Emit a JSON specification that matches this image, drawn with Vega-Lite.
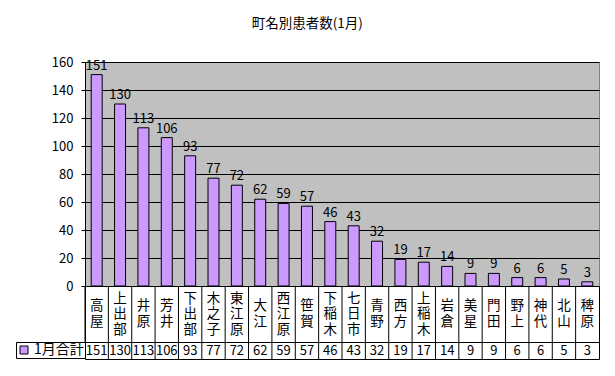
{
  "$schema": "https://vega.github.io/schema/vega-lite/v6.json",
  "background": "white",
  "padding": {"left": 15, "top": 17, "right": 5, "bottom": 5},
  "title": {"text": "町名別患者数(1月)", "font": "Noto Sans CJK JP", "fontSize": 13.5, "fontWeight": "normal", "color": "black", "anchor": "middle", "offset": 25},
  "data": {"values": [
    {"town": "高屋", "count": 151},
    {"town": "上出部", "count": 130},
    {"town": "井原", "count": 113},
    {"town": "芳井", "count": 106},
    {"town": "下出部", "count": 93},
    {"town": "木之子", "count": 77},
    {"town": "東江原", "count": 72},
    {"town": "大江", "count": 62},
    {"town": "西江原", "count": 59},
    {"town": "笹賀", "count": 57},
    {"town": "下稲木", "count": 46},
    {"town": "七日市", "count": 43},
    {"town": "青野", "count": 32},
    {"town": "西方", "count": 19},
    {"town": "上稲木", "count": 17},
    {"town": "岩倉", "count": 14},
    {"town": "美星", "count": 9},
    {"town": "門田", "count": 9},
    {"town": "野上", "count": 6},
    {"town": "神代", "count": 6},
    {"town": "北山", "count": 5},
    {"town": "稗原", "count": 3}
  ]},
  "bounds": "flush",
  "spacing": 0,
  "resolve": {"legend": {"color": "independent"}, "scale": {"color": "independent"}},
  "vconcat": [
    {
      "width": 514,
      "height": 224,
      "view": {"fill": "#C0C0C0", "stroke": "#808080", "strokeWidth": 1},
      "encoding": {
        "x": {"field": "town", "type": "nominal", "sort": null, "scale": {"paddingInner": 0, "paddingOuter": 0}, "axis": null},
        "y": {"field": "count", "type": "quantitative", "scale": {"domain": [0, 160], "nice": false},
          "axis": {"title": null, "values": [0, 20, 40, 60, 80, 100, 120, 140, 160], "labelOverlap": false, "grid": true, "gridColor": "black", "gridOpacity": 1, "gridWidth": 1,
            "domainColor": "black", "domainWidth": 1, "tickColor": "black", "tickSize": 4, "tickWidth": 1,
            "labelFont": "Noto Sans CJK JP", "labelFontSize": 13, "labelColor": "black", "labelPadding": 8}}
      },
      "layer": [
        {
          "mark": {"type": "bar", "fill": "#CC99FF", "stroke": "black", "strokeWidth": 1, "width": {"band": 0.47}}
        },
        {
          "mark": {"type": "text", "baseline": "bottom", "dy": -2, "font": "Noto Sans CJK JP", "fontSize": 13, "color": "black"},
          "encoding": {
            "text": {"field": "count", "type": "quantitative"}
          }
        }
      ]
    },
    {
      "width": 514,
      "height": 56,
      "view": {"fill": "white", "stroke": "black", "strokeWidth": 1},
      "transform": [
        {"calculate": "split(datum.town, '')", "as": "chars"},
        {"calculate": "length(datum.town)", "as": "n"}
      ],
      "encoding": {
        "x": {"field": "town", "type": "nominal", "sort": null, "bandPosition": 0, "scale": {"paddingInner": 0, "paddingOuter": 0}, "axis": null}
      },
      "layer": [
        {"mark": {"type": "rule", "color": "black", "strokeWidth": 1}, "encoding": {}},
        {
          "transform": [{"filter": "datum.n == 2"}],
          "mark": {"type": "text", "baseline": "middle", "align": "center", "dy": -7.75, "font": "Noto Sans CJK JP", "fontSize": 13.5, "lineHeight": 15.5, "color": "black"},
          "encoding": {
            "x": {"field": "town", "type": "nominal", "sort": null, "bandPosition": 0.5},
            "text": {"field": "chars", "type": "nominal"}
          }
        },
        {
          "transform": [{"filter": "datum.n == 3"}],
          "mark": {"type": "text", "baseline": "middle", "align": "center", "dy": -15.5, "font": "Noto Sans CJK JP", "fontSize": 13.5, "lineHeight": 15.5, "color": "black"},
          "encoding": {
            "x": {"field": "town", "type": "nominal", "sort": null, "bandPosition": 0.5},
            "text": {"field": "chars", "type": "nominal"}
          }
        }
      ]
    },
    {
      "width": 514,
      "height": 17,
      "view": {"fill": "white", "stroke": "black", "strokeWidth": 1},
      "encoding": {
        "x": {"field": "town", "type": "nominal", "sort": null, "scale": {"paddingInner": 0, "paddingOuter": 0}, "axis": null}
      },
      "layer": [
        {"mark": {"type": "rule", "color": "black", "strokeWidth": 1}, "encoding": {"x": {"field": "town", "type": "nominal", "sort": null, "bandPosition": 0}}},
        {
          "mark": {"type": "square", "opacity": 0},
          "encoding": {
            "color": {"datum": "1月合計", "type": "nominal", "scale": {"range": ["#CC99FF"]},
              "legend": {"orient": "left", "offset": 0, "title": null, "padding": 1, "strokeColor": "black", "fillColor": "white",
                "symbolType": "square", "symbolSize": 64, "symbolStrokeColor": "black", "symbolStrokeWidth": 1, "symbolOpacity": 1, "symbolFillColor": "#CC99FF",
                "labelFont": "Noto Sans CJK JP", "labelFontSize": 14, "labelColor": "black", "labelOffset": 3}}
          }
        },
        {
          "mark": {"type": "text", "baseline": "middle", "align": "center", "font": "Noto Sans CJK JP", "fontSize": 13, "color": "black"},
          "encoding": {"text": {"field": "count", "type": "quantitative"}}
        }
      ]
    }
  ]
}
